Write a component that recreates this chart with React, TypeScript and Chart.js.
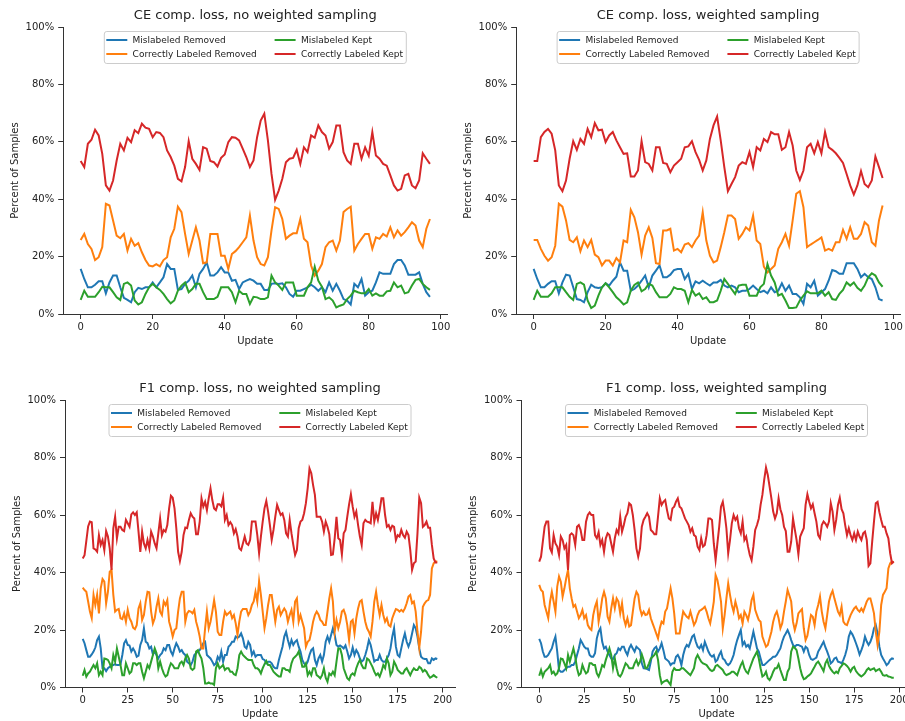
import React, { useEffect, useRef } from 'react';
import { Chart, registerables } from 'chart.js';

Chart.register(...registerables);
Chart.defaults.font.family = '"DejaVu Sans", sans-serif';

// ---------------- data ----------------
const seriesLabels = ['Mislabeled Removed', 'Correctly Labeled Removed', 'Mislabeled Kept', 'Correctly Labeled Kept'];
const panelTitles = [
  'CE comp. loss, no weighted sampling',
  'CE comp. loss, weighted sampling',
  'F1 comp. loss, no weighted sampling',
  'F1 comp. loss, weighted sampling',
];
const topXTicks = [0, 20, 40, 60, 80, 100];
const bottomXTicks = [0, 25, 50, 75, 100, 125, 150, 175, 200];
const yTicks = [0, 20, 40, 60, 80, 100];

// CE, no weighted sampling
const ceNoW_misRemoved = [15.7,12.2,9.3,9.3,10.2,11.4,11.4,7.2,11,13.4,13.4,9.3,5.6,4.9,4.1,7.6,9.1,8.7,9.3,9.3,11,9.3,11,12.8,17.4,15.7,15.7,8.4,8.7,10.5,11.6,13.4,9.3,14,15.7,18,13.4,13.4,14.5,16.3,14.5,14.5,11.6,11.9,8.7,11,11.6,
  12.2,11.6,10.5,10.5,8.4,8.4,10.5,10.7,10.5,10.7,9.3,7,6,8.1,8.1,8.7,9.3,10.2,9.3,8.1,9.3,7.6,11,8.1,10.5,8.1,5.2,4.7,3.3,10.5,9.3,12.2,6.4,7.6,8.1,11,14.5,14,14,14,17.4,18.8,18.8,16.9,13.7,13.7,13.7,14.5,10.5,7.6,6];
const ceNoW_corrRemoved = [25.8,27.9,24.4,22.7,18.8,19.8,23.3,38.4,37.8,32.6,27.3,26.4,27.9,22.1,26.2,23.8,24.7,21.5,18.8,16.9,16.6,17.4,16.6,18.8,19.8,26.7,29.7,37.4,35.5,27.9,20.9,25.6,30.2,25.6,17.7,18,27.9,27.9,27.9,20.3,20.3,15.7,20.9,21.9,23.3,25,26.7,
  34.3,25.6,19.8,17.4,16.9,19.8,29.1,37.2,36.6,33.1,26.2,27.3,28.1,28.1,33.1,26.2,25,16.9,13.4,15.1,17.4,23.3,25,25.6,22.1,25.6,35.5,36.6,37.4,22.1,24.4,26.2,27.9,27.9,22.7,26.7,26.2,27.9,27,30.2,26.7,29.1,27.3,28.5,30.2,32,30.8,25.6,23.3,29.7,33.1];
const ceNoW_misKept = [4.9,8.1,6,6,6,7.6,9.5,9.3,9.3,7.6,5.8,4.9,10.5,11,9.9,4.7,3.3,4.1,7,9.3,10.5,9.3,8.4,7,5.2,3.7,4.7,8.1,9.9,11,7.6,8.7,10.5,10.5,7.6,5.2,5.2,5.2,6,9.3,9.3,9.3,7.6,4.1,8.1,7,7,
  3.5,6,5.8,5.2,5.2,5.8,13.4,11,9.9,8.4,11,11,11,6.4,6.4,6.4,9.3,11,16.5,11.6,9.5,5.2,5.8,4.7,2.3,2.9,3.3,5.2,6.4,8.1,7.6,7.2,7.2,8.7,6.4,7.2,6.4,6.4,7.9,8.1,11,9.3,9.9,7.2,7.6,9.9,11.9,12.2,10.5,9.3,8.4];
const ceNoW_corrKept = [53.3,51.2,59.3,60.7,64.2,62.2,55.8,44.8,43,46.5,53.5,59.3,57,61.4,59.9,64,63,66.3,64.9,64.5,61.6,63.4,63.1,61.6,57,54.7,51.7,47.1,46.2,51.2,60.2,54.1,52.3,50.2,58.1,57.6,53.3,52.9,51.4,54.4,55.6,59.9,61.6,61.4,60.5,57.6,54.7,
  51.2,53.5,61.6,67.4,69.8,60.5,48.8,39.8,43,47.1,52.9,54.1,54.4,57.2,52.3,58.1,56.4,62.2,61.4,65.7,63.4,62.2,57.6,59.9,65.7,65.7,56.4,53.5,52.3,59.3,59.3,54.1,58.1,55.2,63.4,55.2,54.1,52.3,51.7,48.3,44.8,43,43.6,48.3,48.8,44.8,43.8,46.5,56,54.1,52.3];

// CE, weighted sampling
const ceW_misRemoved = [15.7,12.2,9.3,9.3,10.5,11.4,11.4,7.2,11,13.7,13.4,9.3,5.2,4.9,4.1,7.6,10.2,9.3,9.1,9.3,10.7,9.9,11.6,13,18,15.1,15.1,8.1,8.7,9.9,11.6,13.4,9.3,13.4,15.1,16.9,12.8,12.8,13.7,15.3,15.7,15.7,12.2,14,8.7,11.4,10.7,
  11.6,10.7,9.9,11,11,11.9,9.9,9.3,9.9,9.3,7.6,8.1,8.1,8.7,9.9,8.7,7.6,8.1,7.2,9.3,7.6,8.1,10.7,8.1,9.9,7,7,5.8,3.5,10.5,9.3,11.6,6.4,7.6,8.7,11.6,15.3,14.9,14,14,17.7,17.7,17.7,15.7,12.8,14,12.8,12.2,9.3,5.2,4.7];
const ceW_corrRemoved = [25.8,25.8,22.7,20.3,18.6,19.8,23.8,38.4,37.4,32.6,25.8,25,26.7,21.9,25.6,23.3,25.8,20.7,19.8,16.9,18.6,18.6,16.9,19.5,18,25.6,25,36.3,33.7,28.5,20.7,27.3,30.2,26.5,17.7,17.4,29.1,29.1,29.7,22.1,22.7,21.5,24.2,24.7,23.3,25.6,27.3,
  35.5,25.6,20.3,18,18.6,23.3,28.5,34.3,34.3,33.1,26.2,27.9,30.2,29.1,34.3,25.6,24.4,16.5,14.5,15.7,16.9,22.7,25,27.9,23.8,32.6,41.9,42.8,37.2,23.3,24.2,25,25.8,26.7,22.1,22.7,22.1,25,25,29.3,26.2,30.2,26.2,26.2,27.9,32,30.8,25,23.8,32.6,37.8];
const ceW_misKept = [4.9,8.1,6,6,6,7.2,9.3,9.3,9.3,7.6,6,4.9,10.5,11,10.2,4.7,2.1,2.9,6.4,9.3,10.7,9.3,7.6,5.8,4.7,3.3,4.1,8.1,10.1,11,7.9,8.7,10.5,9.9,7.6,5.8,5.8,5.8,7,9.3,8.7,8.7,8.1,4.1,8.4,6.4,7.2,
  5.2,5.8,4.1,4.1,4.7,8.1,12.2,10.5,8.7,7,9.9,10.2,10.2,6.4,6.4,6.4,9.3,10.5,17.4,13.4,11,6.4,7,4.7,2.1,2.1,2.3,4.7,6.4,7.9,7.2,7.2,7.2,8.1,6.4,7.6,5.2,4.9,7,8.4,11,9.9,11,9.1,8.1,9.9,12.8,14.2,13.4,11,9.5];
const ceW_corrKept = [53.3,53.3,61.6,63.4,64.5,62.8,57,44.8,42.8,46.5,54.1,60.2,57.2,61,59.3,64.5,61.6,66.5,64,64.2,59.9,62.2,63.4,60.5,58.1,55.8,56,47.9,47.9,50,60.2,52.9,52.3,50,58.1,58.1,52.6,52.3,49.4,51.7,52.9,54.1,58.1,58.4,60.2,56.4,53.7,
  50,53.5,61,65.7,68.8,60.5,51.2,42.8,45.3,47.7,51.7,52.9,52.3,56.4,51.2,58.1,57,61,59.9,63.4,62.6,62.6,57.2,58.1,63.4,58.7,50,46.7,50,58.1,59.3,56,59.9,56,63.4,58.1,57.2,56,54.4,52.6,48.8,44.8,41.6,44.8,49.8,45.3,44.2,46.5,54.9,51.2,47.4];

// F1, no weighted sampling
const f1NoW_misRemoved = [16.9,15.4,13,10.7,10.7,11.5,12.5,13.9,16.5,17.7,13.6,6.7,6.7,5.7,6.7,7.2,7.6,7.8,8.1,7.8,7.8,8.1,11.3,15.4,16.5,14.8,14.6,12.5,13.6,12.5,10.7,11.1,14.8,16.5,20.6,15.9,15.4,13.6,14.2,11.5,12.5,11.3,10.1,11.3,11.9,13.6,13,14.8,14.8,12.5,11.3,13.6,15.4,14.2,12.5,13,11.9,11.3,9,8.4,7.8,9,11.3,
  11.9,12.5,13,14.2,15.4,15.9,11.3,10.7,10.1,9,7.8,8.4,10.7,9.6,12.5,9,11.3,11.3,14.2,14.8,15.9,15.9,17.7,17.3,17.7,18.8,17.1,14.2,13.6,15.9,14.8,11.3,12.5,10.7,11.3,11.3,11.3,9.9,9.6,8.4,9,9,8.4,7.2,6.7,6.7,9.6,11.9,14.2,17.7,19.4,16.5,14.2,16.5,14.8,15.9,16.5,14.2,12.5,9.6,8.4,7.8,9,11.3,13,13.6,9.6,7.8,10.1,11.3,9,11.3,
  15.9,17.7,15.9,18.3,20.6,18.3,14.8,14.2,14.6,14.2,13.6,14.6,12.5,10.1,11.3,13.9,11.3,13,11.9,10.1,9,9.6,11.3,13.6,16.5,14.8,11.9,9,9.6,9.6,11.3,9.6,9,9,10.1,11.3,13.6,17.7,20.6,14.2,11.3,10.7,13.6,16.5,18.8,15.9,14.2,15.9,18.8,21.7,20.6,17.7,13.6,10.7,10.1,9.9,9.9,8.4,8.4,10.1,9.6,10.1,9.9];
const f1NoW_corrRemoved = [34.7,33.9,33.3,29.9,26.4,24.1,32.2,28.7,32.2,25.8,34.5,37.7,36.8,29.3,33.3,40.3,40.9,32.2,26.4,27,27.3,24.1,23.8,25.8,22.9,27,24.1,22.9,20.8,20.3,21.7,27.5,29.3,23.5,25.2,29.9,33.3,33.1,26.4,22.3,24.1,28.1,31,26.4,25.2,29.9,28.7,30.4,22.9,20.6,17.7,20,20.6,26.4,31,33.3,33.3,22.9,25.8,26.6,26.4,25.8,27,
  22.9,20.6,17.7,13.6,13.6,20.6,26.4,20.6,22.9,26.4,30.4,26.4,19.4,18.3,18.3,22.9,26.4,25.2,25.8,26.4,24.1,25.2,22.3,18.3,22.9,26.4,27.3,27.3,27.3,25.2,26.4,28.7,29.9,33.3,29.9,37,32.2,26.4,20.6,24.1,28.7,32.2,32.2,27.5,22.9,27,28.1,25.2,26.4,27.5,26.4,22.9,25.2,27,22.9,29.9,31,22.9,25.2,22.9,20.6,14.2,15.9,16.5,19.4,22.9,25.2,26.4,25.4,23.5,22.9,21.7,
  21.7,26.4,31,34.5,29.9,19.4,23.5,20.6,22.9,26.4,27,25.2,21.7,16.5,22.9,23.5,18.8,24.1,27.5,29.9,30.4,26.4,22.9,20.6,19.4,17.7,22.9,29.9,33.3,28.7,25.2,28.7,25.2,22.9,24.1,21.7,21.2,24.1,25.8,27.3,27,26.4,27,26.4,27.5,29.3,31.6,32.2,29.3,29.9,26.4,19.4,13.9,19.4,28.1,29.3,30.1,30.4,32.2,41.4,43.2,43.8,43.8];
const f1NoW_misKept = [4.1,6.1,3.8,4.9,5.5,6.7,7.8,6.7,8.4,4.3,5.5,4.3,10.1,9.9,9.6,8.4,6.7,11.3,9,13.6,10.7,7.8,4.3,4.3,8.4,6.7,4.9,5.5,8.4,8.4,7.8,8.4,8.4,5.5,3.2,5.5,7.8,6.7,9,11.3,13.6,11.9,6.7,9,6.7,4.9,3.8,4.3,6.7,8.4,7.8,6.7,6.7,6.7,8.4,9,7.8,10.1,11.3,10.1,6.7,6.1,6.7,
  12.5,13,11.3,10.1,6.7,1.4,1.4,1.8,1.4,1.4,0.9,6.7,8.4,6.7,7.2,7.8,6.1,6.7,6.7,5.5,5.5,4.6,4.3,6.7,11.3,12.5,11.3,10.7,10.1,9.6,9.6,9.6,7.8,6.7,6.7,6.1,4.9,6.7,8.1,9.2,7.8,7.8,6.7,5.5,4.9,4.3,3.8,3.8,6.7,6.7,6.1,6.1,5.5,8.4,10.1,10.7,11.3,12.5,10.1,7.2,7.2,8.4,4.3,5.5,4.3,6.7,6.7,4.3,3.8,3.2,4.3,6.7,
  3.4,2,4.9,4.3,5.5,4.3,9,13.6,13.6,11.3,6.7,4.9,3.2,2.6,4.3,4.9,4.3,6.7,8.4,9.6,7.8,6.7,6.7,10.1,9.6,8.4,7.2,5.5,4.3,4.9,3.8,5.5,7.8,6.7,10.1,8.4,4.3,5.5,9,7.8,6.1,5.5,4.9,4.9,6.1,6.7,5.5,4.3,5.7,6.7,6.1,6.1,7.2,6.7,5.5,6.1,5.5,4.3,3.4,3.8,4.3,3.8,3.4];
const f1NoW_corrKept = [44.9,46,51,56,57.7,57.5,48.4,48,47.2,53,49.6,51.3,47.8,54.4,52.5,48.4,40.9,55.4,59.4,51.9,55.9,55.9,54.8,54.4,58.3,57.1,55.9,60.2,60.9,60,60.9,54.2,47.2,54.2,50.1,48.4,51.3,48.4,54.2,52.5,50.1,48.4,53.6,58.8,53,54.8,54.2,56.5,62.3,66.7,66,62.3,55.4,47.2,44,47.2,53,55.6,55.4,58.3,60.6,59.4,58.8,
  53.3,53.3,57.7,65.8,62.9,64.6,61.7,65.8,69.3,65.2,62.3,61.7,63.7,63.7,63,66,58.3,60,56.5,57.5,56.5,53.6,55.1,52.5,48.4,47.8,50.1,52.5,50.1,49.6,51.3,57.7,57.7,57.7,53,46.7,52.5,57.7,62.3,64.9,61.2,56.5,51.3,54.8,59.4,63.5,61.7,60,60.6,58.3,53.6,52.5,58.3,53.6,49.6,46.1,47.8,55.4,57.7,58.3,60.6,64.1,69.3,76.2,74.5,70.4,67,59.4,59.4,59.4,57.7,54.2,
  57.7,55.9,53.3,46.1,46.3,51.9,59.4,51.9,51.3,46.3,53.6,54.8,59.4,63.7,67.2,62.9,59.4,61.2,56.5,52.5,49.6,57.1,58.3,57.7,57.5,57.1,64.6,57.7,60.6,58.3,61.7,65.8,65.8,60,55.9,56.5,54.8,56.3,55.9,51.3,53,52.5,54.8,53,52.1,54.2,53,47.8,40.9,43.2,43.8,53.6,66,64.1,55.9,56.5,57.7,55.6,55.6,49.6,44.9,43.5,43.5];

// F1, weighted sampling
const f1W_misRemoved = [16.9,15.4,12.5,10.7,10.7,11.3,12.5,13.6,15.9,17.7,12.5,6.1,5.5,5.5,6.1,6.7,7.2,7.2,7.8,7.8,9,11.3,13.6,16.5,15.4,14.2,13.6,13.6,11.3,10.7,10.7,11.9,17.1,19.4,20.6,15.9,13.6,14.2,12.5,11.3,10.1,9.9,11.3,11.9,13.6,13,14.2,14.2,12.5,11.3,13.6,14.8,13.6,12.5,14.2,13.6,13,8.4,6.7,6.7,6.4,
  6.1,9,12.5,13.6,14.2,12.5,13.6,15.4,13,10.1,9.6,9,7.8,8.4,8.4,10.7,11.3,10.1,7.8,11.3,13.6,14.8,14.2,15.9,17.7,18.3,15.9,14.2,13.6,14.8,13,15.9,14.2,12.5,11.3,10.7,11.3,9,9.6,11.3,12.5,10.1,9.6,8.4,7.8,8.4,9.6,11.3,14.2,16.5,18.3,20,14.8,15.9,14.2,14.8,13.6,16.5,19.4,16.5,13.6,12.5,10.1,7.8,7.8,8.4,9,9.6,10.1,10.7,10.7,11.3,
  12.5,13.6,15.9,17.7,18.8,20,18.5,16.5,14.8,14.2,14.8,14.8,14.5,14.2,12.5,14.2,13.6,11.3,9.9,9.6,10,10.4,12.5,13.6,14.8,15.9,14,12.5,10.7,8.4,9,10.1,10.4,9,8.8,8.4,9.6,11.3,13.6,17.7,19.4,18.5,17.1,15.4,13.6,11.5,13,14.8,17.7,16,14.8,15.9,17.7,20.6,21.7,18.8,14.2,11.3,10.1,9,7.8,8.4,9.6,10.1,9.9];
const f1W_corrRemoved = [35.7,33.9,33.3,28.7,26.4,24.1,29.9,33.3,29.9,26.4,35.1,38.6,36.8,31.6,34.5,38,40.9,34.5,31,28.1,28.7,26.4,24.1,25.2,27,24.1,25.2,21.7,20.6,20,25.2,28.1,29.9,22.9,26.4,31,33.3,31,24.6,22.9,27.5,31,27.5,31,29.9,25.8,29.3,24.1,21.7,24.1,21.2,21.7,26.4,31,33.3,32.2,27.5,25.2,26.4,25.2,25.4,
  27,24.1,22.3,20.6,18.8,17.1,20.6,22.9,22.3,26.4,27.5,31,34.5,31,25.8,18.8,18.8,18.8,22.9,26.4,25.4,24.6,24.1,26.4,24.1,21.7,22.9,25.2,26.6,27,27.5,28.1,26.4,24.1,22.3,25.8,29.9,39.1,37.4,33.9,29.9,20.6,25.2,31,36.2,32.2,28.7,26.4,29.9,27.5,24.1,25.2,22.3,26.4,25.2,23.5,26.4,30.4,32.2,27,25.2,23.5,22.9,17.7,15.9,14.2,14.8,17.1,19.4,22.9,25.2,26.4,
  24.1,20.6,22.3,26.4,29.9,33.9,32,29.9,22.9,20,22.3,25.8,26.6,27.3,20.6,16.5,18,21.7,25.2,24.6,21.7,26.4,28.7,31.6,26.4,22.9,20.6,25.2,29.9,32.2,33.6,31,28.7,26.4,25.2,28.1,22.9,22,21.7,23.5,25.2,26.4,27.5,28.1,27,26.4,27.5,26.4,28.1,29.9,31,31,28.5,25.8,19.4,14.8,19.4,28.7,32.2,33.3,34.5,41.4,43.2,43.8,43.5];
const f1W_misKept = [4.1,6.1,3.8,5.5,6.1,6.7,7.8,4.9,5.5,4.3,4.9,6.7,10.1,9.9,8.4,6.7,11.3,9,11.3,13.6,10.7,6.7,4.3,4.9,7.8,6.1,4.9,5.5,8.4,8.4,7.8,7.8,4.9,3.8,5.5,7.8,7.2,9.6,11.5,13.6,11.3,6.7,10.1,6.7,4.3,3.8,4.9,6.7,8.4,7.8,6.7,6.7,6.7,8.4,9.6,7.8,9,11.5,9.6,6.7,6.9,
  8.4,10.1,10.7,11.3,12.5,9.6,4.3,1.4,2,2.3,2.6,1.8,0.9,5.5,6.7,6.1,6.1,6.1,6.7,6.7,6.1,5.5,4.9,4.3,5.5,6.7,10.1,11.3,10.1,9,8.4,8.1,7.8,6.9,6.1,5.7,6.1,7.5,7.8,7.2,6.7,6.1,4.9,4.3,4.6,4.9,5.5,5.5,4.9,4.3,6.1,7.8,9,6.7,5.5,4.9,6.7,8.4,10.1,11.3,12.5,10.1,6.7,3.8,4.3,5.5,3.2,2.6,3.8,5.5,6.7,6.7,
  8.1,6.1,4.3,2.6,2.6,5.5,6.7,12.5,14.2,13.8,13,10.1,6.7,4.3,2.9,3.2,3.8,4.3,4.9,6.1,7.2,8.4,9,8,6.9,5.7,8.4,9.6,7.5,6.4,5.5,4.9,5.5,5,6.7,7.5,8.4,8.1,7.5,6.7,5.5,6.7,7.2,5.7,4.9,4.3,3.8,4.3,5,6.1,6.7,6.1,6.4,6.7,5.7,6.1,6.4,5.5,4.3,4.1,4.3,3.8,3.7,3.4,3.4];
const f1W_corrKept = [43.8,45.5,50.7,55.9,57.7,57.7,48.4,47,53,50.1,49,46.1,52.5,51.3,48.4,49.6,40.9,53,53.6,53,49.6,55.9,56.5,54.8,51.3,51.3,57.7,60,60.9,60,60,53,51.9,54,49.6,51.3,47.2,51.9,53.6,53,50.1,47.2,51.9,54.8,53.6,59.4,54.2,56.5,59.4,60.6,64.1,63.5,60,54.8,48.4,45.5,48.4,55.9,58.3,59.4,60.6,
  59.4,54.8,54.2,53.3,53.3,59.4,65.8,63.5,64.6,65.2,61.7,58.8,58.3,62.3,62.9,64.6,65.8,62.9,62.3,60.6,58.8,57.7,56.5,54.2,55.4,53,52.5,49,47.8,51.9,49,49.6,53,58.8,58.8,58.3,50.1,44.3,50.1,55.9,62.9,64.6,60.6,55.4,46.7,51.3,57.1,60,58.3,59.4,55.4,53.6,57.7,51.3,52.5,49,46.1,44.3,49,54.8,56.5,58.8,63.5,67,72.2,76.5,73.9,69.9,65.8,61.2,58.8,60.6,
  65.8,62,60,55.9,54.4,47.2,47.2,50.7,58.8,55,51.3,46.3,52.5,54,55.4,63.5,67.2,64.6,62.3,63.7,60.6,57.7,53,51.9,56.5,57.7,57,55.9,57.7,64.1,61.2,54.8,58.3,63.5,66,62,60.6,56.5,53,55.4,53,51.3,53.6,51.3,54.2,52.5,51.3,53.6,54.2,51.3,42.3,43.2,50.7,57.7,64.1,64.6,61,58.3,55.9,55.9,53.6,51.9,46.7,43.2,43.8];

// ---------------- styling / layout ----------------
const COLORS = ['#1f77b4', '#ff7f0e', '#2ca02c', '#d62728'];
const TEXT = '#222222';
const SPINE = '#333333';
const FONT = '"DejaVu Sans", sans-serif';

type PanelCfg = {
  left: number; top: number; w: number; h: number;
  yW: number; padTop: number; padRight: number; padBottom: number; yTitlePad: number;
  xMin: number; xMax: number; xTicks: number[]; title: string; series: number[][];
};

const panels: PanelCfg[] = [
  { left: 0, top: 0, w: 455, h: 352, yW: 63.2, padTop: 27, padRight: 7.6, padBottom: 5, yTitlePad: 9.2,
    xMin: -4.85, xMax: 101.85, xTicks: topXTicks, title: panelTitles[0],
    series: [ceNoW_misRemoved, ceNoW_corrRemoved, ceNoW_misKept, ceNoW_corrKept] },
  { left: 453, top: 0, w: 452, h: 352, yW: 63.2, padTop: 27, padRight: 4.6, padBottom: 5, yTitlePad: 9.2,
    xMin: -4.85, xMax: 101.85, xTicks: topXTicks, title: panelTitles[1],
    series: [ceW_misRemoved, ceW_corrRemoved, ceW_misKept, ceW_corrKept] },
  { left: 0, top: 362, w: 458, h: 359, yW: 65, padTop: 38, padRight: 3, padBottom: 0.5, yTitlePad: 11,
    xMin: -9.85, xMax: 206.85, xTicks: bottomXTicks, title: panelTitles[2],
    series: [f1NoW_misRemoved, f1NoW_corrRemoved, f1NoW_misKept, f1NoW_corrKept] },
  { left: 458, top: 362, w: 460, h: 359, yW: 63.5, padTop: 38, padRight: 6.5, padBottom: 0.5, yTitlePad: 9.5,
    xMin: -9.85, xMax: 206.85, xTicks: bottomXTicks, title: panelTitles[3],
    series: [f1W_misRemoved, f1W_corrRemoved, f1W_misKept, f1W_corrKept] },
];

const titleLegendPlugin = {
  id: 'titleLegend',
  afterDraw(chart: any, _args: any, opts: any) {
    const { ctx, chartArea } = chart;
    const { left, right, top } = chartArea;
    const cx = (left + right) / 2;
    ctx.save();
    // title
    ctx.fillStyle = TEXT;
    ctx.font = `13px ${FONT}`;
    ctx.textAlign = 'center';
    ctx.textBaseline = 'middle';
    ctx.fillText(opts.title, cx, top - 11.5);
    // legend box
    const bw = 302, bh = 32;
    const bx = cx - bw / 2, by = top + 4.5;
    const r = 2.5;
    ctx.beginPath();
    ctx.moveTo(bx + r, by);
    ctx.lineTo(bx + bw - r, by);
    ctx.arcTo(bx + bw, by, bx + bw, by + r, r);
    ctx.lineTo(bx + bw, by + bh - r);
    ctx.arcTo(bx + bw, by + bh, bx + bw - r, by + bh, r);
    ctx.lineTo(bx + r, by + bh);
    ctx.arcTo(bx, by + bh, bx, by + bh - r, r);
    ctx.lineTo(bx, by + r);
    ctx.arcTo(bx, by, bx + r, by, r);
    ctx.closePath();
    ctx.fillStyle = 'rgba(255,255,255,0.8)';
    ctx.fill();
    ctx.strokeStyle = '#cccccc';
    ctx.lineWidth = 1;
    ctx.stroke();
    // entries (column-major, 2 columns)
    const ds = chart.data.datasets;
    ctx.font = `9px ${FONT}`;
    ctx.textAlign = 'left';
    ctx.textBaseline = 'middle';
    for (let k = 0; k < ds.length; k++) {
      const col = Math.floor(k / 2);
      const row = k % 2;
      const x0 = bx + 2 + col * 168.3;
      const y = top + 13 + row * 14;
      ctx.strokeStyle = ds[k].borderColor;
      ctx.lineWidth = 2;
      ctx.beginPath();
      ctx.moveTo(x0, y);
      ctx.lineTo(x0 + 21, y);
      ctx.stroke();
      ctx.fillStyle = TEXT;
      ctx.fillText(ds[k].label, x0 + 26.3, y + 0.5);
    }
    ctx.restore();
  },
};

function Panel({ cfg }: { cfg: PanelCfg }) {
  const ref = useRef<HTMLCanvasElement | null>(null);
  useEffect(() => {
    if (!ref.current) return;
    const chart = new Chart(ref.current, {
      type: 'line',
      data: {
        datasets: cfg.series.map((arr, k) => ({
          label: seriesLabels[k],
          data: arr.map((v, i) => ({ x: i, y: v })),
          borderColor: COLORS[k],
          backgroundColor: COLORS[k],
          borderWidth: 2,
          pointRadius: 0,
          pointHoverRadius: 0,
          tension: 0,
          fill: false,
          order: 4 - k,
        })),
      },
      options: {
        animation: false,
        responsive: false,
        events: [],
        layout: {
          autoPadding: false,
          padding: { left: 0, top: cfg.padTop, right: cfg.padRight, bottom: cfg.padBottom },
        },
        plugins: {
          legend: { display: false },
          title: { display: false },
          tooltip: { enabled: false },
          titleLegend: { title: cfg.title },
        } as any,
        scales: {
          x: {
            type: 'linear',
            min: cfg.xMin,
            max: cfg.xMax,
            afterBuildTicks: (s: any) => { s.ticks = cfg.xTicks.map((v) => ({ value: v })); },
            afterFit: (s: any) => { s.height = 33; },
            ticks: {
              color: TEXT, font: { size: 10, family: FONT }, padding: 2,
              maxRotation: 0, autoSkip: false, callback: (v: any) => String(v),
            },
            grid: { display: true, drawOnChartArea: false, drawTicks: true, tickLength: 5, color: SPINE, lineWidth: 1 },
            border: { display: true, color: SPINE, width: 1 },
            title: { display: true, text: 'Update', color: TEXT, font: { size: 10, family: FONT }, padding: { top: 0, bottom: 0 } },
          },
          y: {
            type: 'linear',
            min: 0,
            max: 100,
            afterBuildTicks: (s: any) => { s.ticks = yTicks.map((v) => ({ value: v })); },
            afterFit: (s: any) => { s.width = cfg.yW; },
            ticks: {
              color: TEXT, font: { size: 10, family: FONT }, padding: 4,
              callback: (v: any) => `${v}%`,
            },
            grid: { display: true, drawOnChartArea: false, drawTicks: true, tickLength: 5, color: SPINE, lineWidth: 1 },
            border: { display: true, color: SPINE, width: 1 },
            title: { display: true, text: 'Percent of Samples', color: TEXT, font: { size: 10, family: FONT }, padding: { top: cfg.yTitlePad, bottom: 0 } },
          },
        },
      } as any,
      plugins: [titleLegendPlugin],
    });
    return () => chart.destroy();
  }, [cfg]);
  return (
    <canvas
      ref={ref}
      width={cfg.w}
      height={cfg.h}
      style={{ position: 'absolute', left: cfg.left, top: cfg.top, width: cfg.w, height: cfg.h }}
    />
  );
}

export default function App() {
  return (
    <div style={{ position: 'absolute', left: 0, top: 0, width: 905, height: 721, overflow: 'hidden', background: '#ffffff' }}>
      {panels.map((p, i) => (
        <Panel key={i} cfg={p} />
      ))}
    </div>
  );
}
